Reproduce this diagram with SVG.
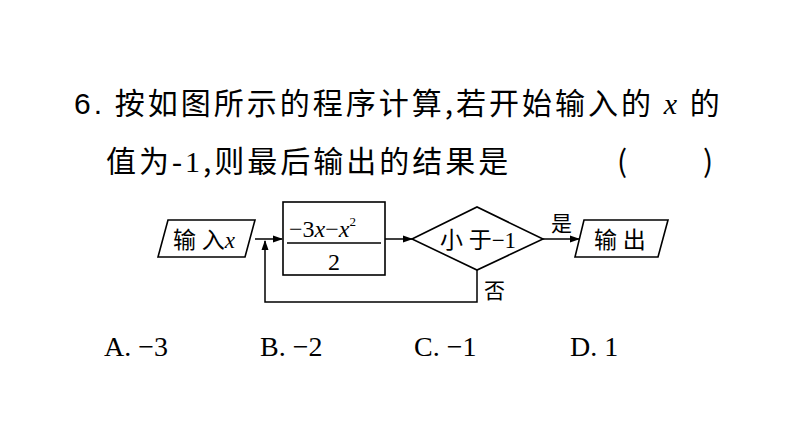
<svg xmlns="http://www.w3.org/2000/svg" width="794" height="447" viewBox="0 0 794 447">
<style>
.t{font-family:"Liberation Serif","Noto Sans CJK SC",serif;fill:#000}
.q{font-family:"Noto Sans CJK SC","Liberation Sans",sans-serif;font-size:30px;fill:#000;letter-spacing:3px}
.s{fill:#fff;stroke:#000;stroke-width:1.6}
.c{fill:none;stroke:#000;stroke-width:1.5}
</style>
<defs><marker id="a" markerWidth="10" markerHeight="8" refX="9" refY="4" orient="auto" markerUnits="userSpaceOnUse"><path d="M0,0.5 L10,4 L0,7.5 Z" fill="#000"/></marker></defs>
<rect width="794" height="447" fill="#fff"/>
<text class="q" x="74" y="114"><tspan font-family="Liberation Sans">6.</tspan> 按如图所示的程序计算,若开始输入的 <tspan font-style="italic" font-family="Liberation Serif">x</tspan> 的</text>
<text class="q" x="106" y="172">值为<tspan font-family="Liberation Serif">-1</tspan>,则最后输出的结果是</text>
<text class="q" x="617" y="172">(</text><text class="q" x="703" y="172">)</text>
<g id="connectors">
<path class="c" d="M255,239 H282" marker-end="url(#a)"/>
<path class="c" d="M385,239 H412" marker-end="url(#a)"/>
<path class="c" d="M543,239 H579" marker-end="url(#a)"/>
<path class="c" d="M477,270 V302 H265 V241" marker-end="url(#a)"/>
<text class="t" x="551" y="231" font-size="21">是</text>
<text class="t" x="484" y="298" font-size="21">否</text>
</g>
<g id="input"><path class="s" d="M168,220 H255 L245,257 H158 Z"/><text class="t" x="173" y="248" font-size="23">输 入<tspan font-style="italic">x</tspan></text></g>
<g id="calc"><rect class="s" x="283" y="202" width="102" height="73"/><line x1="287" y1="243" x2="381" y2="243" stroke="#000" stroke-width="1.5"/>
<text class="t" x="289" y="237" font-size="24">−3<tspan font-style="italic">x</tspan>−<tspan font-style="italic">x</tspan><tspan font-size="13" dy="-11">2</tspan></text>
<text class="t" x="334" y="270" font-size="24" text-anchor="middle">2</text></g>
<g id="cond"><path class="s" d="M412,239 L477,207 L543,239 L477,270 Z"/><text class="t" x="478" y="248" font-size="23" text-anchor="middle">小 于−1</text></g>
<g id="output"><path class="s" d="M584,220 H668 L658,257 H575 Z"/><text class="t" x="594" y="248" font-size="23">输 出</text></g>
<text class="t" x="104" y="356" font-size="28">A. −3</text>
<text class="t" x="260" y="356" font-size="28">B. −2</text>
<text class="t" x="414" y="356" font-size="28">C. −1</text>
<text class="t" x="570" y="356" font-size="28">D. 1</text>
</svg>
